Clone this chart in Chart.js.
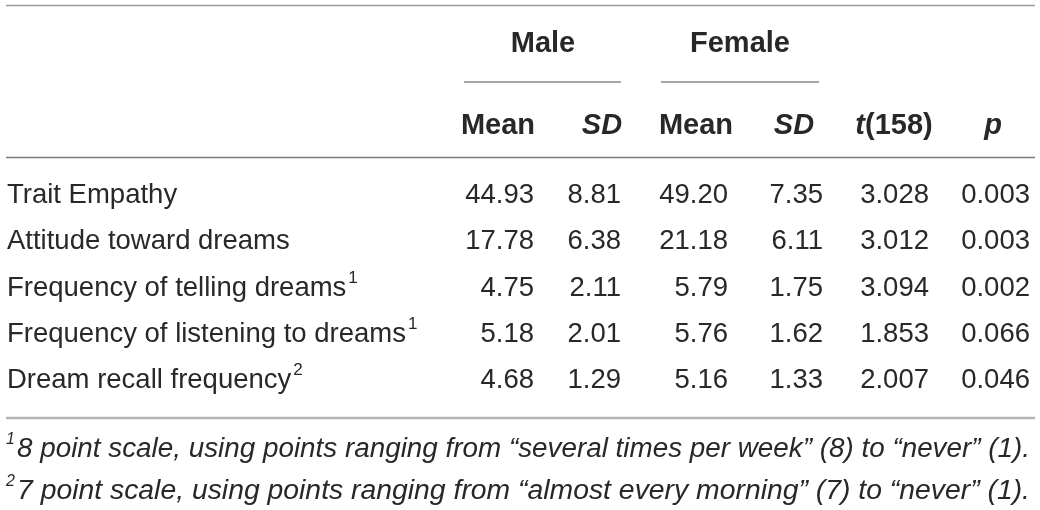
<!DOCTYPE html>
<html><head><meta charset="utf-8">
<script src="https://cdn.jsdelivr.net/npm/chart.js@4.4.1/dist/chart.umd.min.js"></script>
<style>html,body{margin:0;padding:0;background:#fff;overflow:hidden}#wrap{width:1040px;height:510px;position:relative}canvas{display:block}</style>
</head><body><div id="wrap"><canvas id="c" width="1040" height="510" style="width:1040px;height:510px"></canvas></div>
<script>
// ---- data ----
const rowLabels = ['Trait Empathy','Attitude toward dreams','Frequency of telling dreams','Frequency of listening to dreams','Dream recall frequency'];
const rowNotes = ['', '', '1', '1', '2'];
const groupLabels = ['Male','Female'];
const columnLabels = ['Mean','SD','Mean','SD','t(158)','p'];
const maleMean = [44.93,17.78,4.75,5.18,4.68];
const maleSD = [8.81,6.38,2.11,2.01,1.29];
const femaleMean = [49.20,21.18,5.79,5.76,5.16];
const femaleSD = [7.35,6.11,1.75,1.62,1.33];
const tValues = [3.028,3.012,3.094,1.853,2.007];
const pValues = [0.003,0.003,0.002,0.066,0.046];
const columnDecimals = [2,2,2,2,3,3];
const footnoteMarks = ['1','2'];
const footnoteTexts = [
  '8 point scale, using points ranging from \u201cseveral times per week\u201d (8) to \u201cnever\u201d (1).',
  '7 point scale, using points ranging from \u201calmost every morning\u201d (7) to \u201cnever\u201d (1).'
];

// ---- layout / style ----
const FONT = "'Liberation Sans', Arial, Helvetica, sans-serif";
const TEXT = '#2a2728';
const colRight = [534, 621, 728, 823, 929, 1030];
const colHeadCenter = [498, 602, 696, 794, 894, 993];
const groupCenter = [543, 740];
const groupRule = [[464, 621], [661, 819]];
const footnoteRight = 1030;
const columnSeries = [maleMean, maleSD, femaleMean, femaleSD, tValues, pValues];

const datasets = columnSeries.map((vals, k) => ({
  label: columnLabels[k],
  data: vals.map((v, i) => ({x: colRight[k], y: rowLabels[i], v: v})),
  pointRadius: 0, pointHoverRadius: 0, showLine: false
}));

function hline(ctx, x0, x1, y, w, color) {
  ctx.save(); ctx.strokeStyle = color; ctx.lineWidth = w;
  ctx.beginPath(); ctx.moveTo(x0, y); ctx.lineTo(x1, y); ctx.stroke(); ctx.restore();
}

function drawParts(ctx, parts, cx, y) {
  let total = 0;
  parts.forEach(p => { ctx.font = p.font; p.w = ctx.measureText(p.t).width; total += p.w; });
  let x = cx - total / 2;
  parts.forEach(p => { ctx.font = p.font; ctx.fillText(p.t, x, y); x += p.w; });
}

const tablePlugin = {
  id: 'tablePlugin',
  afterDatasetsDraw(chart) {
    const ctx = chart.ctx, ca = chart.chartArea, ys = chart.scales.y;
    ctx.save();
    ctx.fillStyle = TEXT;
    ctx.textBaseline = 'middle';
    // rules
    hline(ctx, 6, 1035, 5.5, 1.6, '#9a9a9a');
    hline(ctx, 6, 1035, ca.top - 14.5, 1.6, '#7a7a7a');
    hline(ctx, 6, 1035, ca.bottom + 14, 2.4, '#b4b4b4');
    groupRule.forEach(r => hline(ctx, r[0], r[1], ca.top - 90, 1.4, '#8a8a8a'));
    // group headers
    ctx.textAlign = 'left';
    const bold = 'bold 29px ' + FONT, boldIt = 'italic bold 29px ' + FONT;
    groupLabels.forEach((g, i) => drawParts(ctx, [{t: g, font: bold}], groupCenter[i], ca.top - 128));
    // column headers
    columnLabels.forEach((c, k) => {
      let parts;
      if (c === 'SD' || c === 'p') parts = [{t: c, font: boldIt}];
      else if (c.startsWith('t(')) parts = [{t: 't', font: boldIt}, {t: c.slice(1), font: bold}];
      else parts = [{t: c, font: bold}];
      drawParts(ctx, parts, colHeadCenter[k], ca.top - 46);
    });
    // row labels
    const reg = '27.5px ' + FONT;
    rowLabels.forEach((lab, i) => {
      const y = ys.getPixelForValue(i);
      ctx.font = reg; ctx.textAlign = 'left';
      ctx.fillText(lab, 7, y);
      if (rowNotes[i]) {
        const w = ctx.measureText(lab).width;
        ctx.font = '17px ' + FONT;
        ctx.fillText(rowNotes[i], 7 + w + 2, y - 10);
      }
    });
    // values
    ctx.font = reg; ctx.textAlign = 'right';
    chart.data.datasets.forEach((ds, k) => {
      const meta = chart.getDatasetMeta(k);
      meta.data.forEach((el, i) => {
        ctx.fillText(ds.data[i].v.toFixed(columnDecimals[k]), el.x, el.y);
      });
    });
    // footnotes
    ctx.textAlign = 'left';
    footnoteTexts.forEach((t, i) => {
      const y = ca.bottom + 45 + i * 42;
      ctx.font = 'italic 16px ' + FONT;
      ctx.fillText(footnoteMarks[i], 6, y - 9);
      ctx.font = 'italic 27px ' + FONT;
      const w = ctx.measureText(t).width;
      const sx = (footnoteRight - 17) / w;
      ctx.save(); ctx.translate(17, y); ctx.scale(sx, 1);
      ctx.fillText(t, 0, 0);
      ctx.restore();
    });
    ctx.restore();
  }
};

new Chart(document.getElementById('c'), {
  type: 'scatter',
  data: {datasets},
  options: {
    responsive: false, animation: false, events: [],
    maintainAspectRatio: false,
    devicePixelRatio: 1,
    layout: {padding: {top: 172, bottom: 106, left: 0, right: 0}},
    scales: {
      x: {type: 'linear', min: 0, max: 1040, display: false},
      y: {type: 'category', labels: rowLabels, offset: true, display: false}
    },
    plugins: {legend: {display: false}, tooltip: {enabled: false}}
  },
  plugins: [tablePlugin]
});
</script>
</body></html>
